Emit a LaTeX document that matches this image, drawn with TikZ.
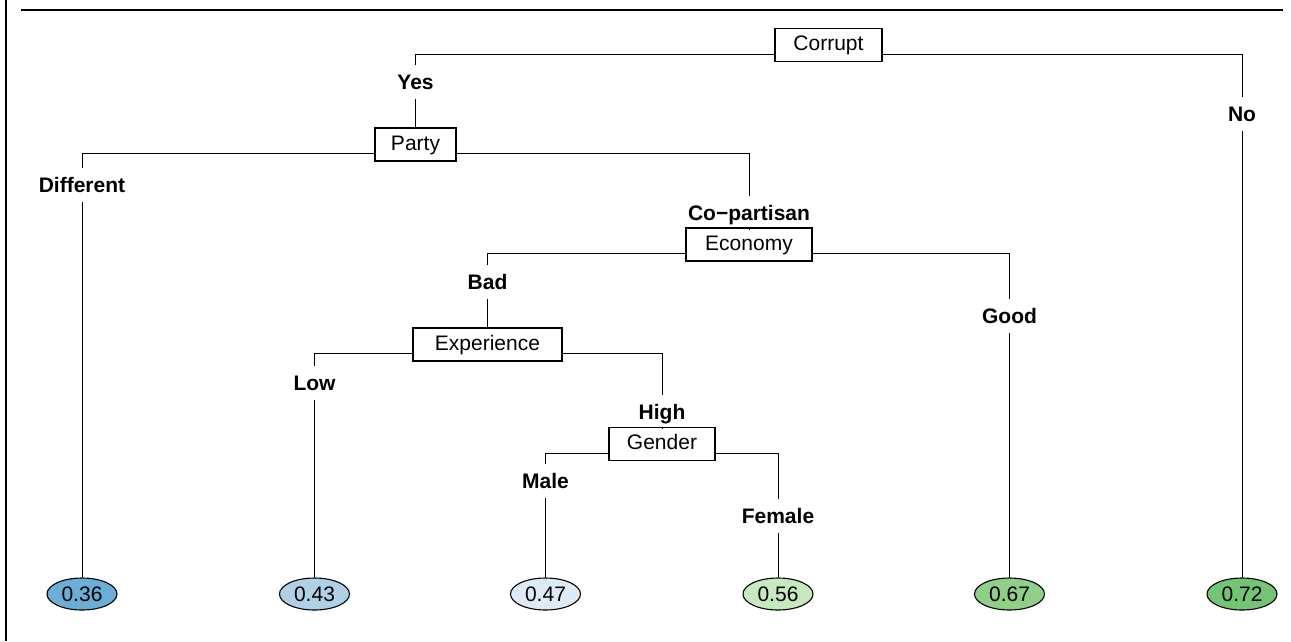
\documentclass[tikz,border=0pt]{standalone}
\usepackage{fontspec}
\setmainfont{Liberation Sans}
\usetikzlibrary{shapes.geometric,backgrounds}
\definecolor{l36}{HTML}{6BAED6}
\definecolor{l43}{HTML}{B0D0E8}
\definecolor{l47}{HTML}{DEEBF7}
\definecolor{l56}{HTML}{C7E9C0}
\definecolor{l67}{HTML}{8FCF8A}
\definecolor{l72}{HTML}{74C476}
\begin{document}
\begin{tikzpicture}[x=1pt,y=-1pt,
  splitbox/.style={draw,line width=1.1pt,fill=white,inner xsep=4pt,minimum height=33pt,
    font=\fontsize{21}{25}\selectfont,text height=15pt,text depth=4pt},
  edgelab/.style={font=\fontsize{21}{25}\selectfont\bfseries,text height=15pt,text depth=0pt,inner ysep=9pt,inner xsep=2pt},
  leaf/.style={ellipse,draw,line width=1.1pt,minimum width=70pt,minimum height=32pt,inner sep=0pt,
    font=\fontsize{21}{25}\selectfont,text height=15pt,text depth=0pt},
  conn/.style={line width=1pt}]
\useasboundingbox (0,0) rectangle (1291,641);
\draw[line width=2pt] (6,0) -- (6,641);
\draw[line width=2pt] (21,10) -- (1283,10);
% split boxes
\node[splitbox,minimum width=107pt] (corrupt) at (828.5,45) {Corrupt};
\node[splitbox,minimum width=81pt] (party) at (415.5,144.5) {Party};
\node[splitbox,minimum width=126pt] (economy) at (749,244.5) {Economy};
\node[splitbox,minimum width=149pt] (experience) at (487.5,344.5) {Experience};
\node[splitbox,minimum width=106pt] (gender) at (662,444) {Gender};
% edge labels
\node[edgelab] (yes) at (415.5,82) {Yes};
\node[edgelab] (no) at (1242,114) {No};
\node[edgelab] (different) at (82,185) {Different};
\node[edgelab] (copartisan) at (749,213) {Co\char"2212 partisan};
\node[edgelab] (bad) at (487.5,282) {Bad};
\node[edgelab] (good) at (1009.5,316) {Good};
\node[edgelab] (low) at (314.5,383) {Low};
\node[edgelab] (high) at (662,412) {High};
\node[edgelab] (male) at (545.5,481) {Male};
\node[edgelab] (female) at (778,516) {Female};
% leaves
\node[leaf,fill=l36] (v36) at (82,594) {0.36};
\node[leaf,fill=l43] (v43) at (314.5,594) {0.43};
\node[leaf,fill=l47] (v47) at (545.5,594) {0.47};
\node[leaf,fill=l56] (v56) at (778,594) {0.56};
\node[leaf,fill=l67] (v67) at (1009.5,594) {0.67};
\node[leaf,fill=l72] (v72) at (1242,594) {0.72};
% split lines
\coordinate (cb) at ([yshift=8pt]corrupt.south);
\coordinate (pb) at ([yshift=8pt]party.south);
\coordinate (eb) at ([yshift=8pt]economy.south);
\coordinate (xb) at ([yshift=8pt]experience.south);
\coordinate (gb) at ([yshift=8pt]gender.south);
\begin{scope}[on background layer]
\draw[conn] (yes) |- (cb) -| (no);
\draw[conn] (different) |- (pb) -| (copartisan);
\draw[conn] (bad) |- (eb) -| (good);
\draw[conn] (low) |- (xb) -| (high);
\draw[conn] (male) |- (gb) -| (female);
\end{scope}
% edges to children
\draw[conn] (yes) -- (party);
\draw[conn] (no) -- (v72);
\draw[conn] (different) -- (v36);
\draw[conn] (copartisan) -- (economy);
\draw[conn] (bad) -- (experience);
\draw[conn] (good) -- (v67);
\draw[conn] (low) -- (v43);
\draw[conn] (high) -- (gender);
\draw[conn] (male) -- (v47);
\draw[conn] (female) -- (v56);
\end{tikzpicture}
\end{document}
